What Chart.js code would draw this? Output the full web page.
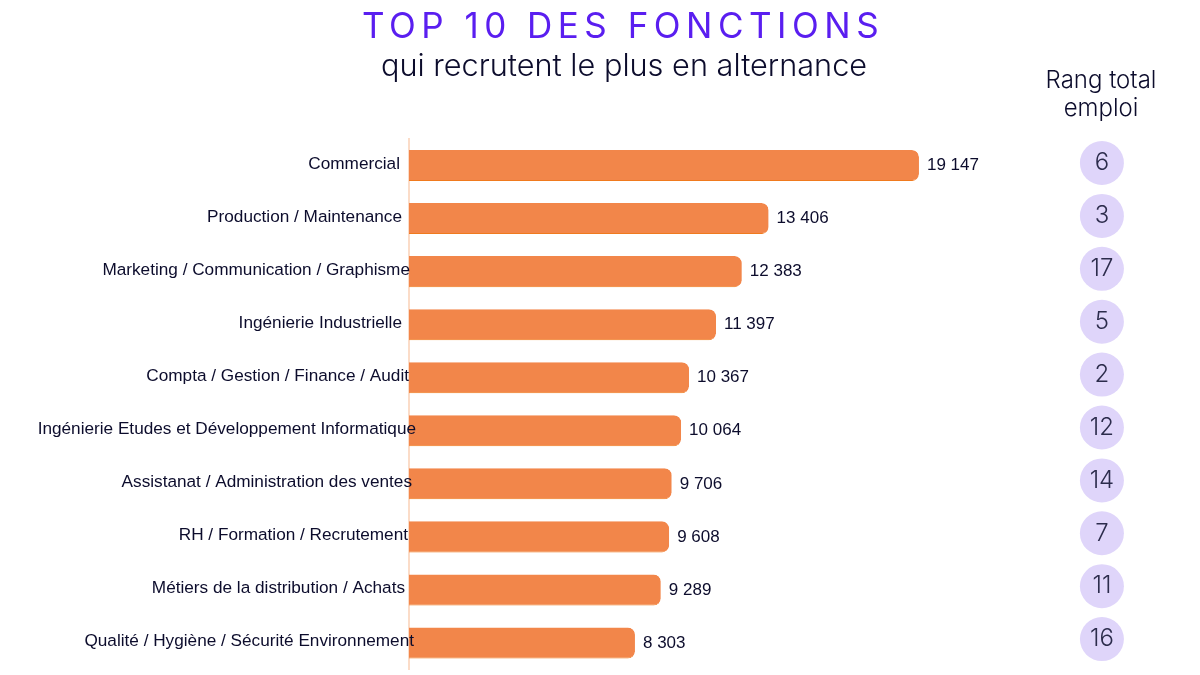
<!DOCTYPE html>
<html lang="fr"><head><meta charset="utf-8">
<script src="https://cdn.jsdelivr.net/npm/chart.js@4/dist/chart.umd.min.js"></script>
<style>
html,body{margin:0;padding:0;background:#fff;width:1200px;height:675px;overflow:hidden}
#wrap{position:relative;width:1200px;height:675px}
canvas{position:absolute;left:0;top:0}
.t{position:absolute;white-space:nowrap;text-align:center;font-family:Inter,sans-serif;transform:translateX(-50%)}
</style></head><body>
<div id="wrap">
<canvas id="c" width="1200" height="675"></canvas>
<div class="t" style="left:623px;top:4px;font-size:35px;line-height:42px;font-weight:400;letter-spacing:5.5px;color:#5a1ef0">TOP 10 DES FONCTIONS</div>
<div class="t" style="left:624px;top:46px;font-size:30.7px;line-height:38px;font-weight:300;color:#0c0c2c">qui recrutent le plus en alternance</div>
<div class="t" style="left:1101px;top:66px;font-size:24px;line-height:28px;font-weight:300;color:#0c0c2c">Rang total<br>emploi</div>
</div>
<script>
const categories = ["Commercial","Production / Maintenance","Marketing / Communication / Graphisme","Ingénierie Industrielle","Compta / Gestion / Finance / Audit","Ingénierie Etudes et Développement Informatique","Assistanat / Administration des ventes","RH / Formation / Recrutement","Métiers de la distribution / Achats","Qualité / Hygiène / Sécurité Environnement"];
const values = [19147,13406,12383,11397,10367,10064,9706,9608,9289,8303];
const ranks = [6,3,17,5,2,12,14,7,11,16];
const labelShift = [-3,-1,7,-1,6,13,9,5,2,11];

const fmt = v => String(v).replace(/\B(?=(\d{3})+$)/g,' ');
const sans = '"Liberation Sans", Arial, sans-serif';

const overlay = {
  id:'overlay',
  beforeDatasetsDraw(chart){
    const s = chart.scales.y;
    s._computeLabelArea = () => undefined;
    s.getLabelItems(chart.chartArea).forEach((it,i)=>{
      if(!it._moved){ it.options.translation[0] += labelShift[i]; it.options.translation[1] -= 1.5; it._moved = true; }
    });
  },
  afterDatasetsDraw(chart){
    const ctx = chart.ctx;
    ctx.save();
    ctx.textBaseline='middle';
    chart.getDatasetMeta(0).data.forEach((el,i)=>{
      ctx.textAlign='left'; ctx.fillStyle='#0c0c2c'; ctx.font='17px '+sans;
      ctx.fillText(fmt(values[i]), el.x+8, el.y);
    });
    chart.getDatasetMeta(1).data.forEach((el,i)=>{
      ctx.textAlign='center'; ctx.fillStyle='#2c2c4c'; ctx.font='300 24px Inter, sans-serif';
      ctx.fillText(String(ranks[i]), el.x, el.y);
    });
    ctx.restore();
  }
};

new Chart(document.getElementById('c'),{
  data:{
    labels:categories,
    datasets:[
      {type:'bar',indexAxis:'y',data:values,xAxisID:'x',yAxisID:'y',grouped:false,base:-325,
       backgroundColor:'#F2864A',borderColor:'#F07A1E',
       borderWidth:{bottom:1},borderSkipped:false,
       borderRadius:{topRight:7,bottomRight:7,topLeft:0,bottomLeft:0},
       barPercentage:0.585,categoryPercentage:1},
      {type:'scatter',indexAxis:'x',data:ranks.map((r,i)=>({x:0.876,y:i})),xAxisID:'xRank',yAxisID:'yRank',
       pointRadius:22,pointHoverRadius:22,backgroundColor:'#DFD5FA',borderWidth:0,showLine:false}
    ]
  },
  options:{
    indexAxis:'y',responsive:false,animation:false,devicePixelRatio:1,
    layout:{autoPadding:false,padding:{top:139,bottom:5.5,left:0,right:0}},
    plugins:{legend:{display:false},tooltip:{enabled:false},title:{display:false}},
    scales:{
      x:{type:'linear',min:-325,max:29877,display:false},
      xRank:{type:'linear',min:0,max:1,display:false},
      yRank:{type:'linear',reverse:true,min:-0.454,max:9.575,display:false},
      y:{type:'category',offset:true,
         afterFit(s){s.width=409;s.paddingTop=0;s.paddingBottom=0;},
         grid:{display:false,drawTicks:false},
         border:{display:true,color:'#FBDCC8',width:2},
         ticks:{z:2,autoSkip:false,padding:6,color:'#0c0c2c',font:{family:sans,size:17.2}}}
    }
  },
  plugins:[overlay]
});
</script></body></html>
